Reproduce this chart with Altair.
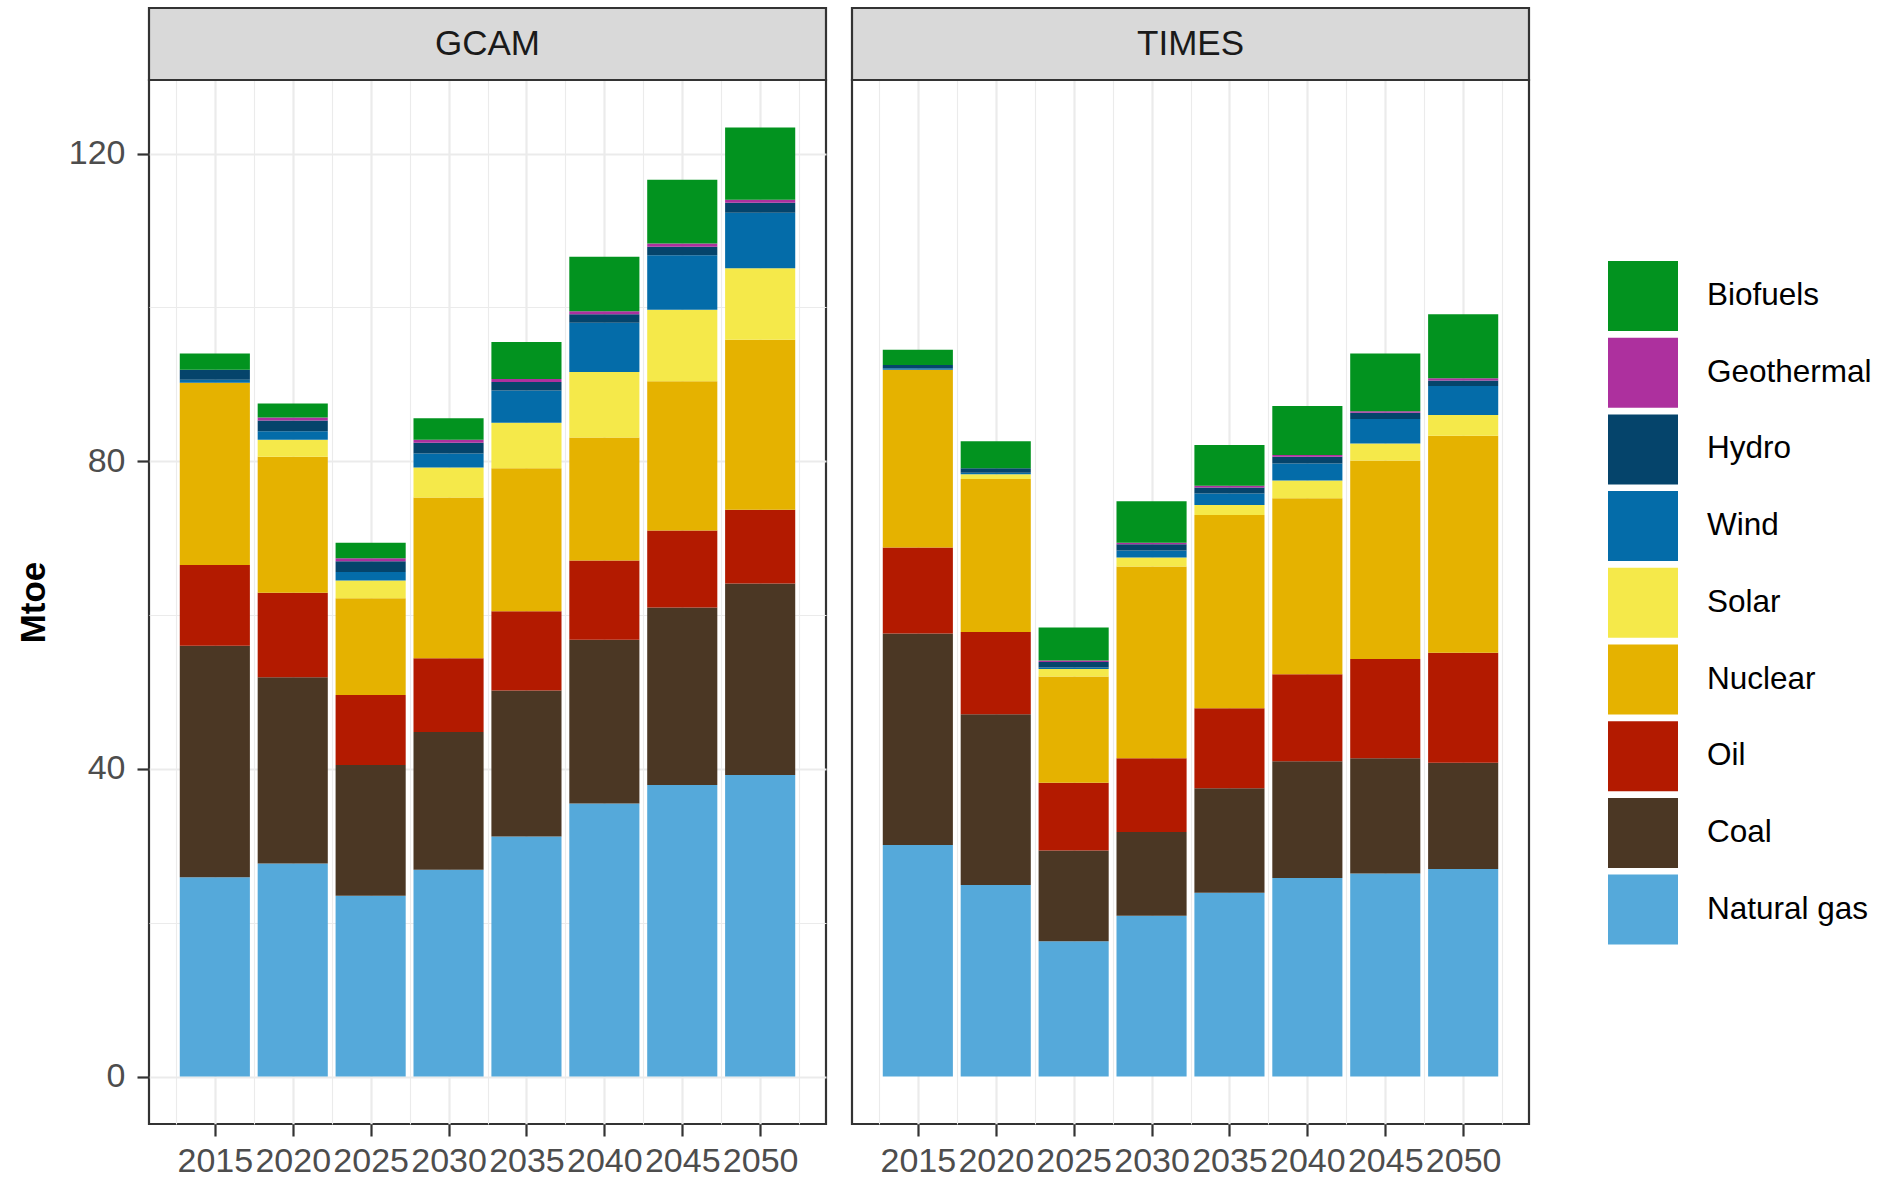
import altair as alt
import pandas as pd

FONT = "Liberation Sans"

years = [2015, 2020, 2025, 2030, 2035, 2040, 2045, 2050]
models = ["GCAM", "TIMES"]
fuels = ["Biofuels", "Geothermal", "Hydro", "Wind", "Solar",
         "Nuclear", "Oil", "Coal", "Natural gas"]
fuel_colors = ["#02931F", "#AD309E", "#05446B", "#046CA9", "#F5E94A",
               "#E5B200", "#B31A00", "#4B3724", "#55A9DA"]

# Primary energy supply by fuel (Mtoe), one value per year
gcam_natural_gas = [25.9, 27.7, 23.5, 26.9, 31.2, 35.5, 37.9, 39.2]
gcam_coal = [30.1, 24.2, 17.0, 17.9, 19.0, 21.3, 23.1, 24.9]
gcam_oil = [10.5, 11.0, 9.1, 9.6, 10.3, 10.3, 10.0, 9.6]
gcam_nuclear = [23.7, 17.7, 12.6, 20.9, 18.6, 16.0, 19.4, 22.1]
gcam_solar = [0.0, 2.2, 2.3, 3.9, 5.9, 8.5, 9.3, 9.3]
gcam_wind = [0.4, 1.1, 1.1, 1.8, 4.2, 6.4, 7.1, 7.2]
gcam_hydro = [1.3, 1.4, 1.4, 1.4, 1.1, 1.1, 1.1, 1.3]
gcam_geothermal = [0.0, 0.4, 0.4, 0.4, 0.4, 0.4, 0.4, 0.4]
gcam_biofuels = [2.1, 1.8, 2.0, 2.8, 4.8, 7.1, 8.3, 9.4]

times_natural_gas = [30.1, 24.9, 17.6, 20.9, 23.9, 25.8, 26.4, 27.0]
times_coal = [27.5, 22.2, 11.8, 10.9, 13.6, 15.2, 15.0, 13.8]
times_oil = [11.2, 10.7, 8.8, 9.6, 10.4, 11.3, 12.9, 14.3]
times_nuclear = [23.1, 19.9, 13.8, 24.9, 25.1, 22.9, 25.8, 28.2]
times_solar = [0.0, 0.6, 1.0, 1.2, 1.3, 2.3, 2.2, 2.7]
times_wind = [0.2, 0.2, 0.2, 0.9, 1.5, 2.2, 3.2, 3.8]
times_hydro = [0.4, 0.6, 0.7, 0.8, 0.8, 0.9, 0.8, 0.7]
times_geothermal = [0.0, 0.0, 0.2, 0.2, 0.2, 0.2, 0.2, 0.3]
times_biofuels = [2.0, 3.5, 4.3, 5.4, 5.3, 6.4, 7.5, 8.3]

series = {
    "GCAM": {
        "Natural gas": gcam_natural_gas, "Coal": gcam_coal, "Oil": gcam_oil,
        "Nuclear": gcam_nuclear, "Solar": gcam_solar, "Wind": gcam_wind,
        "Hydro": gcam_hydro, "Geothermal": gcam_geothermal, "Biofuels": gcam_biofuels,
    },
    "TIMES": {
        "Natural gas": times_natural_gas, "Coal": times_coal, "Oil": times_oil,
        "Nuclear": times_nuclear, "Solar": times_solar, "Wind": times_wind,
        "Hydro": times_hydro, "Geothermal": times_geothermal, "Biofuels": times_biofuels,
    },
}

# Natural gas sits at the bottom of each stack, Biofuels on top
stack_rank = {f: len(fuels) - 1 - i for i, f in enumerate(fuels)}

rows = []
for model, by_fuel in series.items():
    for fuel, values in by_fuel.items():
        for year, v in zip(years, values):
            rows.append({"model": model, "fuel": fuel, "year": year,
                         "value": v, "rank": stack_rank[fuel]})
df = pd.DataFrame(rows)

# Panel geometry and scale extents
W, H, STRIP_H = 677, 1044, 72
BAR_YEARS = 4.5
x_domain = [2012.75 - 1.975, 2052.25 + 1.975]
y_domain = [-6.17, 129.57]
bar_px = BAR_YEARS * W / (x_domain[1] - x_domain[0])

PAD_LEFT, PAD_TOP = 15, 5
# legend placement, measured from the top-left corner of the first panel
LEGEND_X, LEGEND_Y = 1459, 181

GRID = "#EBEBEB"
DARK = "#333333"
LINE_W = 2.2

major_x = "datum.value % 5 === 0"
major_y = "datum.value % 40 === 0"

x_axis = alt.Axis(
    values=[2012.5 + 2.5 * i for i in range(17)],
    format="d",
    labelExpr=f"{major_x} ? datum.label : ''",
    labelOverlap=False, labelBound=False, labelFlush=False,
    labelFont=FONT, labelFontSize=34, labelColor="#4D4D4D", labelPadding=8,
    tickSize=12, tickColor=DARK, tickWidth=LINE_W,
    tickOpacity={"condition": {"test": major_x, "value": 1}, "value": 0},
    grid=True, gridColor=GRID,
    gridWidth={"condition": {"test": major_x, "value": 2.2}, "value": 1.1},
    domain=False, title=None,
)

y_axis = alt.Axis(
    values=[0, 20, 40, 60, 80, 100, 120],
    labelExpr=f"{major_y} ? datum.label : ''",
    labelOverlap=False, labelBound=False, labelFlush=False,
    labelFont=FONT, labelFontSize=34, labelColor="#4D4D4D", labelPadding=12,
    tickSize=12, tickColor=DARK, tickWidth=LINE_W,
    tickOpacity={"condition": {"test": major_y, "value": 1}, "value": 0},
    grid=True, gridColor=GRID,
    gridWidth={"condition": {"test": major_y, "value": 2.2}, "value": 1.1},
    domain=False,
    title="Mtoe", titleFont=FONT, titleFontSize=35, titleFontWeight="bold",
    titleColor="black", titlePadding=17,
)

legend = alt.Legend(
    title=None, orient="none",
    legendX=LEGEND_X, legendY=LEGEND_Y,
    symbolType="square", symbolSize=4900, symbolStrokeWidth=0, symbolOpacity=1,
    labelFont=FONT, labelFontSize=31.5, labelColor="black", labelOffset=29,
    labelLimit=0, rowPadding=6.7, padding=0,
)


def panel(model, show_y):
    bars = (
        alt.Chart(df[df.model == model])
        .mark_bar(size=bar_px)
        .encode(
            x=alt.X("year:Q",
                    scale=alt.Scale(domain=x_domain, nice=False, zero=False, padding=0),
                    axis=x_axis),
            y=alt.Y("value:Q", stack="zero",
                    scale=alt.Scale(domain=y_domain, nice=False, zero=False, padding=0),
                    axis=y_axis if show_y else None),
            color=alt.Color("fuel:N", scale=alt.Scale(domain=fuels, range=fuel_colors),
                            legend=legend),
            order=alt.Order("rank:Q", sort="ascending"),
        )
    )
    strip_data = pd.DataFrame({"model": [model]})
    strip = alt.Chart(strip_data).mark_rect(
        fill="#D9D9D9", stroke=DARK, strokeWidth=LINE_W
    ).encode(x=alt.value(0), x2=alt.value(W), y=alt.value(-STRIP_H), y2=alt.value(0))
    strip_text = alt.Chart(strip_data).mark_text(
        font=FONT, fontSize=35, color="#1A1A1A", baseline="middle", align="center"
    ).encode(x=alt.value(W / 2), y=alt.value(-STRIP_H / 2), text="model:N")
    return alt.layer(bars, strip, strip_text).properties(width=W, height=H)


chart = (
    alt.hconcat(panel("GCAM", True), panel("TIMES", False), spacing=20)
    .resolve_scale(color="shared")
    .properties(padding={"left": PAD_LEFT, "top": PAD_TOP, "right": 5, "bottom": 5},
                background="white")
    .configure_view(stroke=DARK, strokeWidth=LINE_W, fill="white")
)

chart.save("out.html", embed_options={"renderer": "svg", "actions": False})
